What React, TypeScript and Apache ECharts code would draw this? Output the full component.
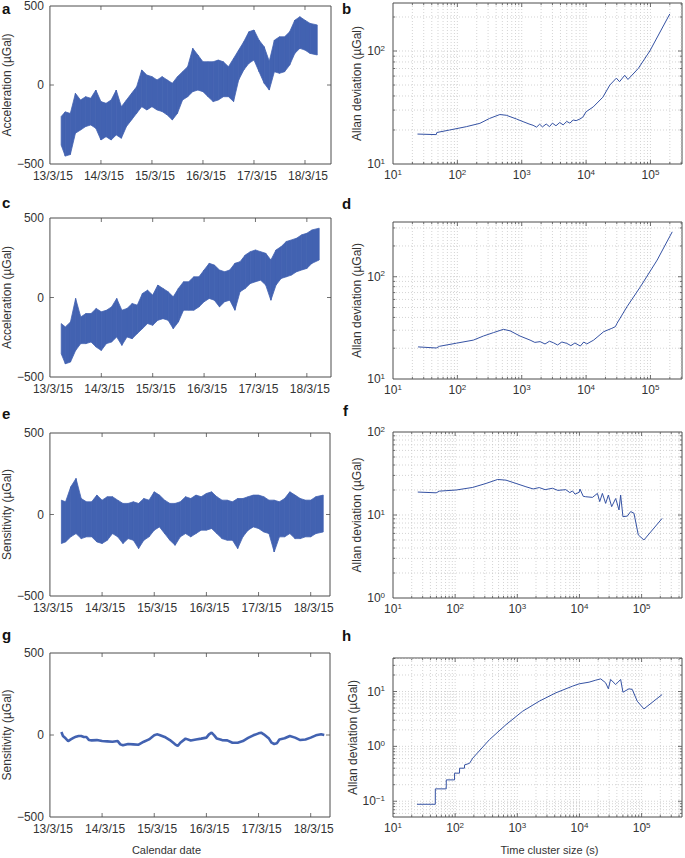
import React, { useEffect, useRef } from "react";
import * as echarts from "echarts";

const FONT = "'Liberation Sans', Arial, Helvetica, sans-serif";
const TEXT_COLOR = "#333333";
const FRAME_COLOR = "#4d4d4d";
const GRID_COLOR = "#c2c2c2";
const BAND_COLOR = "#4262b1";
const LINE_COLOR = "#3552a3";

// ---- tick labels ----
const DATE_LABELS = ["13/3/15", "14/3/15", "15/3/15", "16/3/15", "17/3/15", "18/3/15"];

// ---- left panels: days since 13/3/15 at which the envelope of the noisy record was read ----
const DAYS = [0.22, 0.3, 0.4, 0.5, 0.6, 0.7, 0.8, 0.9, 1.0, 1.1, 1.2, 1.3, 1.4, 1.5, 1.6, 1.7, 1.8, 1.9, 2.0, 2.1, 2.2, 2.3, 2.4, 2.5, 2.6, 2.7, 2.8, 2.9, 3.0, 3.1, 3.2, 3.3, 3.4, 3.5, 3.6, 3.7, 3.8, 3.9, 4.0, 4.1, 4.2, 4.3, 4.4, 4.5, 4.6, 4.7, 4.8, 4.9, 5.0, 5.1, 5.24];

// panel a (acceleration, µGal)
const A_LOW = [-380, -450, -440, -305, -285, -263, -253, -274, -348, -327, -348, -316, -337, -263, -221, -179, -137, -158, -137, -158, -168, -190, -221, -179, -95, -74, -42, -32, -42, -74, -105, -95, -74, -74, -105, 32, 95, 137, 158, 84, 11, -32, 84, 74, 84, 126, 200, 232, 221, 200, 190];
const A_HIGH = [-200, -170, -180, -53, -95, -74, -84, -32, -105, -116, -95, -32, -137, -95, -53, -11, 95, 63, 53, 32, 53, 32, 11, 53, 84, 116, 232, 190, 147, 147, 147, 158, 147, 116, 168, 221, 274, 337, 348, 284, 242, 150, 284, 305, 305, 337, 410, 432, 410, 390, 380];

// panel c (acceleration, µGal)
const C_LOW = [-354, -417, -406, -333, -290, -290, -280, -312, -333, -290, -280, -248, -301, -248, -259, -227, -196, -164, -175, -143, -133, -143, -196, -154, -80, -80, -80, -59, -27, -6, -17, -59, -27, -17, -80, 36, 57, 88, 99, 109, 78, -17, 78, 120, 130, 141, 162, 173, 183, 215, 236];
const C_HIGH = [-164, -185, -154, -6, -122, -101, -101, -69, -90, -80, -59, -6, -80, -69, -38, -48, 25, 46, 15, 78, 57, 36, 4, 57, 99, 99, 130, 130, 173, 215, 204, 173, 162, 173, 215, 225, 267, 288, 299, 288, 278, 236, 299, 320, 352, 362, 373, 394, 404, 425, 436];

// panel e (sensitivity, µGal)
const E_LOW = [-178, -168, -137, -117, -148, -137, -137, -168, -178, -158, -117, -137, -178, -148, -158, -209, -158, -137, -96, -76, -117, -158, -189, -137, -117, -137, -117, -96, -96, -86, -117, -148, -158, -158, -209, -137, -96, -76, -86, -107, -117, -230, -137, -137, -117, -148, -148, -137, -137, -117, -107];
const E_HIGH = [88, 78, 170, 221, 98, 78, 78, 119, 88, 109, 109, 88, 68, 68, 78, 68, 98, 88, 139, 119, 88, 68, 68, 78, 109, 98, 119, 109, 129, 139, 109, 88, 88, 78, 98, 98, 109, 119, 119, 109, 88, 88, 78, 98, 139, 119, 98, 88, 88, 109, 119];

// panel g (smoothed sensitivity, µGal)
const G_DAYS = [0.22, 0.25, 0.3, 0.35, 0.4, 0.45, 0.5, 0.55, 0.6, 0.65, 0.7, 0.75, 0.8, 0.9, 1.0, 1.1, 1.2, 1.3, 1.35, 1.4, 1.5, 1.6, 1.7, 1.8, 1.9, 2.0, 2.05, 2.1, 2.2, 2.3, 2.4, 2.45, 2.5, 2.6, 2.7, 2.8, 2.9, 3.0, 3.05, 3.1, 3.15, 3.2, 3.3, 3.4, 3.5, 3.6, 3.7, 3.8, 3.9, 4.0, 4.05, 4.1, 4.2, 4.25, 4.3, 4.35, 4.4, 4.5, 4.6, 4.7, 4.8, 4.9, 5.0, 5.1, 5.2, 5.26];
const G_VALUES = [18, -6, -20, -37, -27, -18, -10, -6, -6, -12, -12, -31, -33, -31, -37, -39, -41, -37, -57, -63, -55, -57, -59, -41, -27, -2, 4, 0, -12, -31, -57, -67, -47, -22, -33, -27, -22, -16, 4, 14, -2, -22, -31, -33, -47, -47, -37, -18, -2, 10, 14, 4, -22, -47, -55, -51, -27, -20, -6, -16, -31, -27, -16, -2, 4, 0];

// ---- right panels: Allan deviation (µGal) vs time cluster size (s) ----
const B_TAU = [24, 47, 48, 76, 138, 224, 316, 457, 575, 832, 1050, 1300, 1500, 1700, 1900, 2100, 2400, 2700, 3000, 3400, 3900, 4400, 5000, 5600, 6300, 7000, 8000, 8900, 10000, 12900, 18200, 23400, 29500, 33100, 39800, 44700, 64600, 97700, 200000];
const B_ADEV = [18.4, 18.2, 19.0, 20.0, 21.4, 22.9, 25.3, 27.4, 27.0, 25.0, 23.7, 22.6, 22.0, 21.2, 22.5, 21.3, 22.6, 21.4, 23.0, 21.8, 23.3, 22.2, 23.8, 23.0, 24.5, 24.2, 25.0, 26.0, 29.0, 32, 39, 50, 57.5, 53.5, 61, 56, 70, 100, 213];

const D_TAU = [24.5, 47, 53, 97, 177, 253, 363, 518, 658, 942, 1349, 1600, 1932, 2300, 2700, 3119, 3600, 4200, 5012, 5800, 6700, 8128, 9200, 10233, 13092, 18750, 25119, 28510, 30200, 43250, 69800, 127000, 218000];
const D_ADEV = [20.6, 20.1, 20.9, 22.4, 24.0, 26.3, 28.4, 30.6, 29.6, 26.3, 24.0, 22.8, 23.2, 22.0, 23.4, 22.6, 21.5, 23.0, 22.3, 21.2, 22.5, 21.0, 23.0, 22.0, 24.0, 29.0, 31.3, 32.5, 35, 51, 79.8, 145.5, 275];

const F_TAU = [25, 49.5, 56, 104, 192, 314, 483, 658, 953, 1377, 1800, 2254, 2800, 3690, 4500, 6026, 7000, 7727, 8500, 9886, 10200, 11500, 12600, 16200, 19450, 21200, 23400, 26400, 29200, 33000, 38300, 43300, 46000, 50100, 58900, 66700, 75400, 88500, 109000, 214000];
const F_ADEV = [18.9, 18.5, 19.4, 20.0, 21.5, 24.0, 26.8, 26.3, 24.0, 21.9, 20.6, 21.4, 20.2, 21.0, 19.8, 20.2, 18.6, 19.5, 17.8, 18.8, 20.5, 16.8, 16.6, 16.3, 18.2, 14.5, 18.2, 13.8, 17.4, 12.6, 15.8, 11.5, 17.4, 9.55, 9.7, 11.0, 10.5, 5.75, 5.0, 9.1];

const H_TAU = [24.3, 47.9, 48, 71.8, 72, 97.7, 98, 117.5, 118, 141, 142, 170, 192, 355, 658, 1219, 2254, 4170, 7730, 9890, 14300, 18300, 22000, 26400, 29200, 31700, 38300, 46000, 50100, 62700, 70800, 85100, 109000, 214000];
const H_ADEV = [0.088, 0.088, 0.168, 0.168, 0.245, 0.245, 0.325, 0.325, 0.40, 0.40, 0.46, 0.49, 0.61, 1.32, 2.49, 4.37, 6.66, 9.46, 12.5, 13.8, 14.8, 16.1, 17.0, 14.4, 11.2, 16.6, 13.4, 16.6, 9.7, 11.2, 10.9, 6.66, 4.82, 8.81];

// ---- layout ----
const LEFT_PANELS = [
  { letter: "a", grid: { left: 42, top: 6, width: 289, height: 158 }, xMax: 5.51, yName: "Acceleration (µGal)", low: A_LOW, high: A_HIGH, xName: "" },
  { letter: "c", grid: { left: 42, top: 218, width: 289, height: 159 }, xMax: 5.47, yName: "Acceleration (µGal)", low: C_LOW, high: C_HIGH, xName: "" },
  { letter: "e", grid: { left: 42, top: 433, width: 288, height: 163 }, xMax: 5.37, yName: "Sensitivity (µGal)", low: E_LOW, high: E_HIGH, xName: "" },
  { letter: "g", grid: { left: 42, top: 653, width: 288, height: 164 }, xMax: 5.37, yName: "Sensitivity (µGal)", low: null, high: null, xName: "Calendar date" },
];
const RIGHT_PANELS = [
  { letter: "b", grid: { left: 393, top: 3, width: 289, height: 161 }, xMax: 309000, yMin: 10, yMax: 266, tau: B_TAU, adev: B_ADEV, xName: "" },
  { letter: "d", grid: { left: 393, top: 222, width: 289, height: 157 }, xMax: 309000, yMin: 10, yMax: 343, tau: D_TAU, adev: D_ADEV, xName: "" },
  { letter: "f", grid: { left: 393, top: 432, width: 290, height: 166 }, xMax: 446700, yMin: 1, yMax: 100, tau: F_TAU, adev: F_ADEV, xName: "" },
  { letter: "h", grid: { left: 393, top: 658, width: 290, height: 159 }, xMax: 446700, yMin: 0.0516, yMax: 40.8, tau: H_TAU, adev: H_ADEV, xName: "Time cluster size (s)" },
];
const LETTER_POS: Record<string, [number, number]> = {
  a: [2, 8], b: [342, 8], c: [2, 202], d: [342, 203], e: [2, 413], f: [343, 410], g: [2, 634], h: [342, 635],
};

const labelStyle = { fontSize: 12, color: TEXT_COLOR, fontFamily: FONT };
const POW_RICH = {
  b: { fontSize: 12, color: TEXT_COLOR, fontFamily: FONT, lineHeight: 14 },
  s: { fontSize: 8, color: TEXT_COLOR, fontFamily: FONT, lineHeight: 9, verticalAlign: "top" },
};

function powLabel(v: number) {
  const l = Math.log10(v);
  const e = Math.round(l);
  if (Math.abs(l - e) > 1e-6) return "";
  const exp = e < 0 ? "−" + -e : String(e);
  return `{b|10}{s|${exp}}`;
}
function signedLabel(v: number) {
  return v < 0 ? "−" + Math.abs(v) : String(v);
}
function dateLabel(v: number) {
  const r = Math.round(v);
  if (Math.abs(v - r) > 1e-6 || r < 0 || r >= DATE_LABELS.length) return "";
  return DATE_LABELS[r];
}

// axis tick / grid positions (not data)
function logPositions(min: number, max: number) {
  const out: [number, number][] = [];
  for (let e = Math.floor(Math.log10(min)) - 1; e <= Math.ceil(Math.log10(max)); e++) {
    for (let k = 1; k <= 9; k++) {
      const v = k * Math.pow(10, e);
      if (v > min * 1.0005 && v < max * 0.9995) out.push([v, k === 1 ? 1 : 0]);
    }
  }
  return out;
}

const makeFrameRenderer = (withGrid: boolean) => (params: any, api: any) => {
  const cs = params.coordSys;
  const pt = api.coord([api.value(0), api.value(1)]);
  const isY = api.value(2) === 1;
  const major = api.value(3) === 1;
  const len = major ? 4 : 2.2;
  const tick = { stroke: FRAME_COLOR, lineWidth: 0.8 };
  const dotted = { stroke: GRID_COLOR, lineWidth: 0.7, lineDash: [1, 2] };
  const children: any[] = [];
  if (!isY) {
    const x = pt[0];
    const top = cs.y;
    const bottom = cs.y + cs.height;
    if (withGrid) children.push({ type: "line", shape: { x1: x, y1: top, x2: x, y2: bottom }, style: dotted });
    children.push({ type: "line", shape: { x1: x, y1: bottom, x2: x, y2: bottom - len }, style: tick });
    children.push({ type: "line", shape: { x1: x, y1: top, x2: x, y2: top + len }, style: tick });
  } else {
    const y = pt[1];
    const l = cs.x;
    const r = cs.x + cs.width;
    if (withGrid) children.push({ type: "line", shape: { x1: l, y1: y, x2: r, y2: y }, style: dotted });
    children.push({ type: "line", shape: { x1: l, y1: y, x2: l + len, y2: y }, style: tick });
    children.push({ type: "line", shape: { x1: r, y1: y, x2: r - len, y2: y }, style: tick });
  }
  return { type: "group", children };
};

function renderBand(params: any, api: any) {
  const a = api.coord([api.value(0), api.value(1)]);
  const b = api.coord([api.value(3), api.value(4)]);
  const c = api.coord([api.value(3), api.value(5)]);
  const d = api.coord([api.value(0), api.value(2)]);
  return {
    type: "polygon",
    shape: { points: [a, b, c, d] },
    style: { fill: BAND_COLOR, stroke: BAND_COLOR, lineWidth: 0.8 },
  };
}

function buildOption() {
  const grid: any[] = [];
  const xAxis: any[] = [];
  const yAxis: any[] = [];
  const series: any[] = [];
  const graphic: any[] = [];

  LEFT_PANELS.forEach((p, i) => {
    grid.push({ ...p.grid, show: true, borderColor: FRAME_COLOR, borderWidth: 1, backgroundColor: "transparent" });
    xAxis.push({
      type: "value", gridIndex: i, min: 0, max: p.xMax, interval: 1,
      axisLine: { show: false }, axisTick: { show: false }, splitLine: { show: false },
      axisLabel: { ...labelStyle, margin: 6, padding: [0, 0, 0, 6], formatter: dateLabel },
      name: p.xName, nameLocation: "middle", nameGap: 27,
      nameTextStyle: { fontSize: 11, color: TEXT_COLOR, fontFamily: FONT, padding: [0, 47, 0, 0] },
    });
    yAxis.push({
      type: "value", gridIndex: i, min: -500, max: 500, interval: 500,
      axisLine: { show: false }, axisTick: { show: false }, splitLine: { show: false },
      axisLabel: { ...labelStyle, margin: 6, formatter: signedLabel },
      name: p.yName, nameLocation: "middle", nameGap: 27,
      nameTextStyle: { fontSize: 12, color: TEXT_COLOR, fontFamily: FONT },
    });
    const frame: any[] = [];
    [1, 2, 3, 4, 5].forEach((d) => frame.push([d, -500, 0, 1]));
    [0].forEach((v) => frame.push([0, v, 1, 1]));
    series.push({ type: "custom", xAxisIndex: i, yAxisIndex: i, data: frame, renderItem: makeFrameRenderer(false), z: 1, silent: true });
    if (p.low && p.high) {
      const items: number[][] = [];
      for (let k = 0; k < DAYS.length - 1; k++) {
        items.push([DAYS[k], p.low[k], p.high[k], DAYS[k + 1], p.low[k + 1], p.high[k + 1]]);
      }
      series.push({
        type: "custom", xAxisIndex: i, yAxisIndex: i, data: items, renderItem: renderBand,
        encode: { x: [0, 3], y: [1, 2, 4, 5] }, z: 3, silent: true,
      });
    } else {
      series.push({
        type: "line", xAxisIndex: i, yAxisIndex: i, data: G_DAYS.map((d, k) => [d, G_VALUES[k]]),
        symbol: "none", showSymbol: false, lineStyle: { color: BAND_COLOR, width: 2.6 }, itemStyle: { color: BAND_COLOR }, z: 3, silent: true,
      });
    }
  });

  RIGHT_PANELS.forEach((p, j) => {
    const i = j + 4;
    grid.push({ ...p.grid, show: true, borderColor: FRAME_COLOR, borderWidth: 1, backgroundColor: "transparent" });
    xAxis.push({
      type: "log", logBase: 10, gridIndex: i, min: 10, max: p.xMax,
      axisLine: { show: false }, axisTick: { show: false }, splitLine: { show: false }, minorTick: { show: false },
      axisLabel: { ...labelStyle, margin: 4, formatter: powLabel, rich: POW_RICH },
      name: p.xName, nameLocation: "middle", nameGap: 27,
      nameTextStyle: { fontSize: 11, color: TEXT_COLOR, fontFamily: FONT, padding: [0, 0, 0, 24] },
    });
    yAxis.push({
      type: "log", logBase: 10, gridIndex: i, min: p.yMin, max: p.yMax,
      axisLine: { show: false }, axisTick: { show: false }, splitLine: { show: false }, minorTick: { show: false },
      axisLabel: { ...labelStyle, margin: 8, formatter: powLabel, rich: POW_RICH },
      name: "Allan deviation (µGal)", nameLocation: "middle", nameGap: 29,
      nameTextStyle: { fontSize: 12, color: TEXT_COLOR, fontFamily: FONT },
    });
    const frame: any[] = [];
    logPositions(10, p.xMax).forEach(([v, m]) => frame.push([v, p.yMin, 0, m]));
    logPositions(p.yMin, p.yMax).forEach(([v, m]) => frame.push([10, v, 1, m]));
    series.push({ type: "custom", xAxisIndex: i, yAxisIndex: i, data: frame, renderItem: makeFrameRenderer(true), z: 1, silent: true });
    series.push({
      type: "line", xAxisIndex: i, yAxisIndex: i, data: p.tau.map((t, k) => [t, p.adev[k]]),
      symbol: "none", showSymbol: false, lineStyle: { color: LINE_COLOR, width: 1 }, itemStyle: { color: LINE_COLOR }, z: 3, silent: true,
    });
  });

  [...LEFT_PANELS, ...RIGHT_PANELS].forEach((p) => {
    const [x, y] = LETTER_POS[p.letter];
    graphic.push({
      type: "text", x, y,
      style: { text: p.letter, fill: "#111", font: `bold 15px ${FONT}`, verticalAlign: "middle", align: "left" },
    });
  });

  return {
    animation: false,
    backgroundColor: "#ffffff",
    textStyle: { fontFamily: FONT },
    grid, xAxis, yAxis, series, graphic,
  };
}

export default function App() {
  const ref = useRef<HTMLDivElement>(null);
  useEffect(() => {
    if (!ref.current) return;
    const chart = echarts.init(ref.current, null, { renderer: "svg", width: 685, height: 858 });
    chart.setOption(buildOption() as any);
    return () => chart.dispose();
  }, []);
  return (
    <div
      ref={ref}
      style={{ position: "absolute", left: 0, top: 0, width: 685, height: 858, background: "#fff" }}
    />
  );
}
